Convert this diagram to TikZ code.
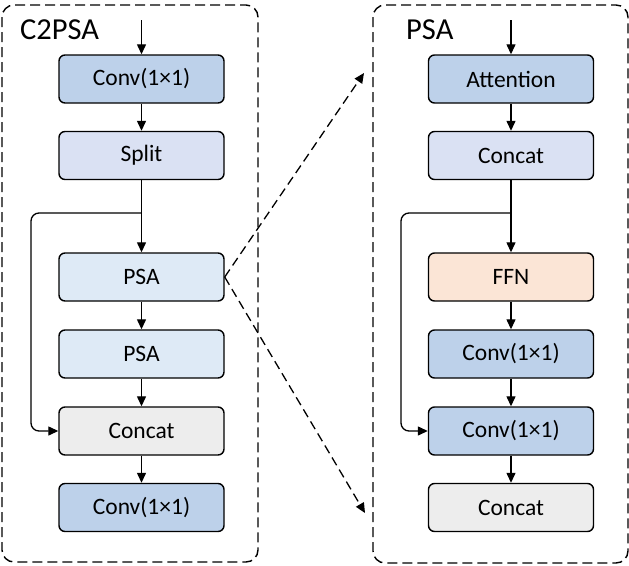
\documentclass[tikz,border=0pt]{standalone}
\usepackage{fontspec}
\setmainfont{Carlito}
\usetikzlibrary{arrows.meta}
\definecolor{convc}{HTML}{BDD1EA}
\definecolor{splitc}{HTML}{DAE1F3}
\definecolor{psac}{HTML}{DEEAF6}
\definecolor{catc}{HTML}{EDEDED}
\definecolor{ffnc}{HTML}{FBE5D6}
\begin{document}
\begin{tikzpicture}[x=1pt,y=-1pt,
  blk/.style={draw=black, line width=1.4pt, rounded corners=6pt, minimum width=165pt, minimum height=48pt, inner sep=0pt, font=\fontsize{23.5}{26}\selectfont},
  arr/.style={-{Triangle[length=10pt,width=9pt]}, line width=1.3pt},
  darr/.style={-{Triangle[length=10pt,width=9pt]}, line width=1.3pt, dash pattern=on 9pt off 5pt},
  cont/.style={line width=1.4pt, rounded corners=12pt, dash pattern=on 10pt off 5pt},
  ttl/.style={anchor=base west, inner sep=0pt, font=\fontsize{30.5}{32}\selectfont}]
\useasboundingbox (0,0) rectangle (629,565);
% containers
\draw[cont] (2,5) rectangle (258,562);
\draw[cont] (373,5) rectangle (628,563);
\node[ttl] (tl) at (20,39) {C2PSA};
\node[ttl] (tr) at (406,39) {PSA};
% left column
\node[blk, fill=convc] (c1) at (141.5,79) {Conv(1×1)};
\node[blk, fill=splitc] (sp) at (141.5,155.5) {Split};
\node[blk, fill=psac] (p1) at (141.5,277) {PSA};
\node[blk, fill=psac] (p2) at (141.5,354) {PSA};
\node[blk, fill=catc] (ct) at (141.5,431) {Concat};
\node[blk, fill=convc] (c2) at (141.5,507.5) {Conv(1×1)};
% right column
\node[blk, fill=convc] (at) at (511,79) {Attention};
\node[blk, fill=splitc] (rc1) at (511,155.5) {Concat};
\node[blk, fill=ffnc] (ff) at (511,277) {FFN};
\node[blk, fill=convc] (rv1) at (511,354) {Conv(1×1)};
\node[blk, fill=convc] (rv2) at (511,431) {Conv(1×1)};
\node[blk, fill=catc] (rc2) at (511,507.5) {Concat};
% inputs
\coordinate (inl) at (141.5,20);
\coordinate (inr) at (511,20);
\draw[arr] (inl) -- (c1.north);
\draw[arr] (inr) -- (at.north);
% left flow
\draw[arr] (c1) -- (sp);
\draw[arr] (sp) -- (p1);
\draw[arr] (p1) -- (p2);
\draw[arr] (p2) -- (ct);
\draw[arr] (ct) -- (c2);
\coordinate (bl) at (141.5,213);
\coordinate (kl) at (31,213);
\draw[arr, rounded corners=8pt] (bl) -- (kl) |- (ct.west);
% right flow
\draw[arr] (at) -- (rc1);
\draw[arr] (rc1) -- (ff);
\draw[arr] (ff) -- (rv1);
\draw[arr] (rv1) -- (rv2);
\draw[arr] (rv2) -- (rc2);
\coordinate (br) at (511,213);
\coordinate (kr) at (401,213);
\draw[arr, rounded corners=8pt] (br) -- (kr) |- (rv2.west);
% dashed links
\coordinate (d1) at (364,73);
\coordinate (d2) at (365,513);
\draw[darr] (p1.east) -- (d1);
\draw[darr] (p1.east) -- (d2);
\end{tikzpicture}
\end{document}
